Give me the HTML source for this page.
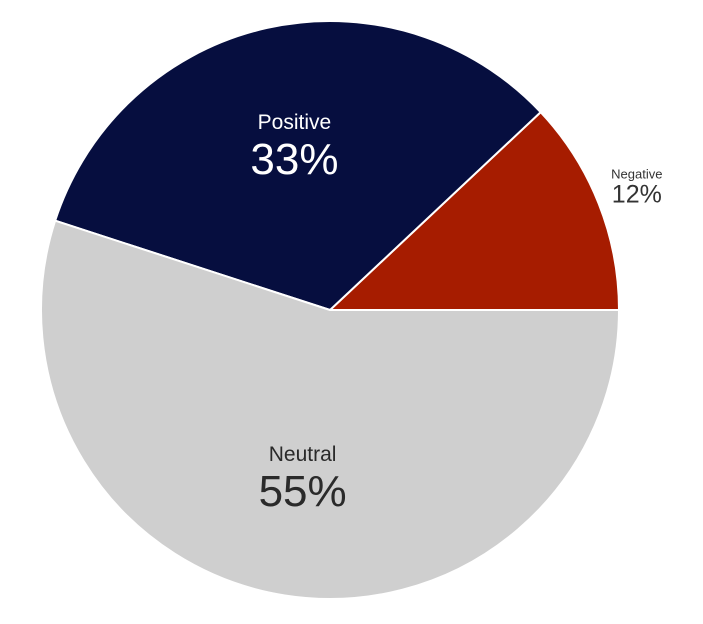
<!DOCTYPE html>
<html><head><meta charset="utf-8">
<style>
html,body{margin:0;padding:0;background:#fff;}
svg{display:block;font-family:"Liberation Sans",sans-serif;}
</style></head>
<body>
<svg id="chart" width="703" height="624" viewBox="0 0 703 624"></svg>
<script>
const categories = ["Negative", "Positive", "Neutral"];
const values = [12, 33, 55];
const colors = ["#a61c00", "#060e3f", "#cfcfcf"];
const textColors = ["#333333", "#ffffff", "#2a2a2a"];

const svg = document.getElementById('chart');
const NS = 'http://www.w3.org/2000/svg';
const cx = 330, cy = 310, R = 289;
const total = values.reduce((a,b)=>a+b,0);
function pt(angDeg, r){ const a = angDeg*Math.PI/180; return [cx + r*Math.cos(a), cy - r*Math.sin(a)]; }
let start = 0;
values.forEach((v,i)=>{
  const sweep = v/total*360;
  const end = start + sweep;
  const [x1,y1] = pt(start,R), [x2,y2] = pt(end,R);
  const large = sweep > 180 ? 1 : 0;
  const p = document.createElementNS(NS,'path');
  p.setAttribute('d', `M${cx},${cy} L${x1},${y1} A${R},${R} 0 ${large} 0 ${x2},${y2} Z`);
  p.setAttribute('fill', colors[i]);
  p.setAttribute('stroke', '#ffffff');
  p.setAttribute('stroke-width', '2');
  
  
  svg.appendChild(p);
  start = end;
});
start = 0;
values.forEach((v,i)=>{
  const frac = v/total;
  const mid = start + frac*180;
  start += frac*360;
  const outside = frac < 0.2;
  const r = outside ? 330 : (frac < 0.4 ? 163 : 175);
  const [lx,ly] = pt(mid, r);
  const g = document.createElementNS(NS,'g');
  
  
  const t1 = document.createElementNS(NS,'text');
  const t2 = document.createElementNS(NS,'text');
  const nameSize = outside ? 13 : 21;
  const pctSize = outside ? 25 : 44;
  t1.setAttribute('x', lx); t1.setAttribute('y', ly - (outside?10:22));
  t1.setAttribute('font-size', nameSize);
  t2.setAttribute('x', lx); t2.setAttribute('y', ly + (outside?14:23));
  t2.setAttribute('font-size', pctSize);
  [t1,t2].forEach(t=>{ t.setAttribute('text-anchor','middle'); t.setAttribute('fill', textColors[i]); });
  
  
  
  
  t1.textContent = categories[i];
  t2.textContent = v + '%';
  g.appendChild(t1); g.appendChild(t2);
  svg.appendChild(g);
});
</script>
</body></html>
